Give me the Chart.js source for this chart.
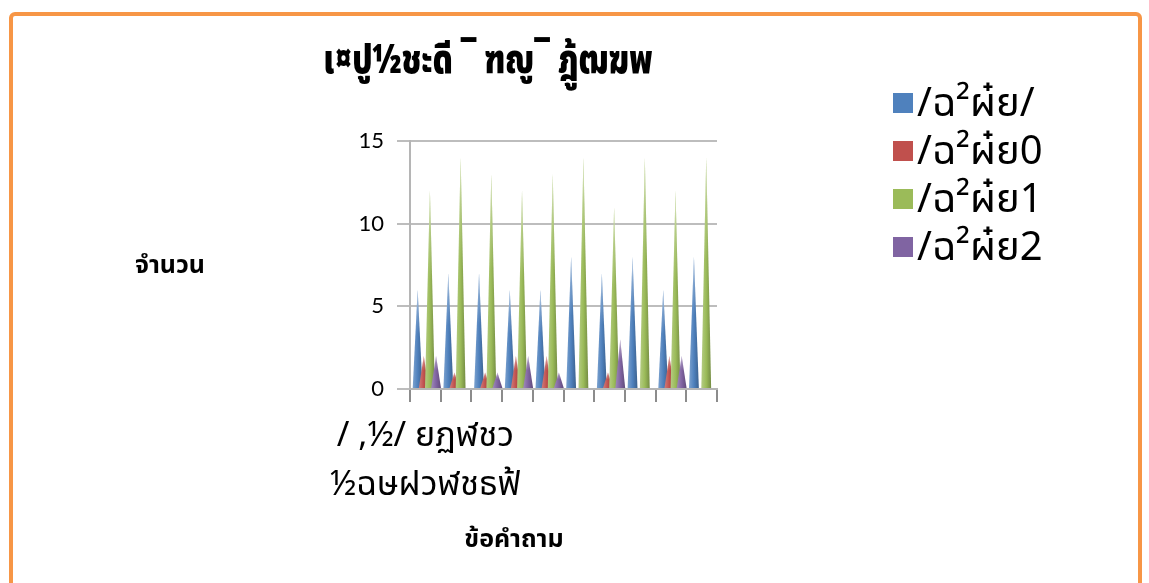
<!DOCTYPE html>
<html>
<head>
<meta charset="utf-8">
<script src="https://cdn.jsdelivr.net/npm/chart.js@4/dist/chart.umd.min.js"></script>
<style>
  html, body { margin: 0; padding: 0; background: #fff; overflow: hidden; }
  #wrap { position: relative; width: 1149px; height: 583px; }
  #frame { position: absolute; left: 9px; top: 12px; width: 1133px; height: 640px;
           border: 4px solid #F79646; border-radius: 6px; box-sizing: border-box; }
  canvas { position: absolute; left: 0; top: 0; }
  .txt { position: absolute; white-space: nowrap; color: #000;
         font-family: "Noto Sans Thai", "Noto Sans", "DejaVu Sans", sans-serif; }
  #title { left: 488px; top: 60px; transform: translate(-50%, -50%) scaleX(0.78); font-size: 40px; font-weight: 900; }
  #ytitle { left: 170px; top: 265px; transform: translate(-50%, -50%); font-size: 25px; font-weight: bold; }
  #xtitle { left: 514px; top: 539px; transform: translate(-50%, -50%); font-size: 25px; font-weight: bold; }
  #legend { position: absolute; left: 893px; top: 78px; }
  .item { position: relative; height: 48px; }
  .sw { position: absolute; left: 0; top: 15px; width: 20px; height: 20px; }
  .lab { position: absolute; left: 24px; top: 25px; transform: translateY(-50%); font-size: 40px; }
</style>
</head>
<body>
<div id="wrap">
  <div id="frame"></div>
  <canvas id="c" width="1149" height="583"></canvas>
  <div class="txt" id="title"></div>
  <div class="txt" id="ytitle"></div>
  <div class="txt" id="xtitle"></div>
  <div id="legend"></div>
</div>
<script>
// Chart text
const chartTitle = 'เ¤ปู½ชะดี ¯ ฑญู¯ ฎู้ฒฆพ';
const yAxisTitle = 'จำนวน';
const xAxisTitle = 'ข้อคำถาม';

// Ten questions; only the first one carries a printed label
const questionLabels = [['/ ,½/ ยฏฬชว', '½ฉษฝวฬชธฟ้'], '', '', '', '', '', '', '', '', ''];

// Answer levels (series)
const seriesNames = ['/ฉ²ผ๋ย/', '/ฉ²ผ๋ย0', '/ฉ²ผ๋ย1', '/ฉ²ผ๋ย2'];
const seriesColors = ['#4F81BD', '#C0504D', '#9BBB59', '#8064A2'];

// Counts per question for each level
const level1 = [6, 7, 7, 6, 6, 8, 7, 8, 6, 8];
const level2 = [2, 1, 1, 2, 2, 0, 1, 0, 2, 0];
const level3 = [12, 14, 13, 12, 13, 14, 11, 14, 12, 14];
const level4 = [2, 0, 1, 2, 1, 0, 3, 0, 2, 0];

// Y axis ticks
const yTicks = [0, 5, 10, 15];

document.getElementById('title').textContent = chartTitle;
document.getElementById('ytitle').textContent = yAxisTitle;
document.getElementById('xtitle').textContent = xAxisTitle;

const legendEl = document.getElementById('legend');
seriesNames.forEach((name, i) => {
  const item = document.createElement('div');
  item.className = 'item';
  const sw = document.createElement('div');
  sw.className = 'sw';
  sw.style.background = seriesColors[i];
  const lab = document.createElement('div');
  lab.className = 'txt lab';
  lab.textContent = name;
  item.appendChild(sw);
  item.appendChild(lab);
  legendEl.appendChild(item);
});

function shade(hex, f) {
  const n = parseInt(hex.slice(1), 16);
  let r = (n >> 16) & 255, g = (n >> 8) & 255, b = n & 255;
  if (f >= 0) { r += (255 - r) * f; g += (255 - g) * f; b += (255 - b) * f; }
  else { r *= 1 + f; g *= 1 + f; b *= 1 + f; }
  return `rgb(${Math.round(r)},${Math.round(g)},${Math.round(b)})`;
}

// Draws each bar as a shaded cone standing on the category axis
const conePlugin = {
  id: 'cones',
  beforeDatasetDraw() { return false; },
  afterDatasetsDraw(chart) {
    const ctx = chart.ctx;
    chart.data.datasets.forEach((ds, i) => {
      const meta = chart.getDatasetMeta(i);
      const col = seriesColors[i];
      meta.data.forEach(bar => {
        const p = bar.getProps(['x', 'y', 'base', 'width'], true);
        if (p.base - p.y < 0.5) return;
        const half = p.width * 0.8;
        const cx = p.x + 1.5;
        ctx.save();
        ctx.beginPath();
        ctx.moveTo(cx - half, p.base);
        ctx.lineTo(cx, p.y);
        ctx.lineTo(cx + half, p.base);
        ctx.closePath();
        const hg = ctx.createLinearGradient(cx - half, 0, cx + half, 0);
        hg.addColorStop(0, shade(col, 0.25));
        hg.addColorStop(0.5, col);
        hg.addColorStop(1, shade(col, -0.25));
        ctx.fillStyle = hg;
        ctx.fill();
        const vg = ctx.createLinearGradient(0, p.y, 0, p.base);
        vg.addColorStop(0, 'rgba(255,255,255,0.7)');
        vg.addColorStop(0.2, 'rgba(255,255,255,0.25)');
        vg.addColorStop(0.45, 'rgba(255,255,255,0)');
        ctx.fillStyle = vg;
        ctx.fill();
        ctx.restore();
      });
    });
  }
};

const tickFont = { family: 'Lato, "Open Sans", sans-serif', size: 22 };

new Chart(document.getElementById('c'), {
  type: 'bar',
  data: {
    labels: questionLabels,
    datasets: [level1, level2, level3, level4].map((vals, i) => ({
      label: seriesNames[i],
      data: vals,
      backgroundColor: seriesColors[i]
    }))
  },
  options: {
    responsive: false,
    animation: false,
    events: [],
    layout: { padding: { left: 300, right: 432, top: 141, bottom: 0 } },
    datasets: { bar: { categoryPercentage: 0.8, barPercentage: 1.0 } },
    plugins: { legend: { display: false }, title: { display: false }, tooltip: { enabled: false } },
    scales: {
      x: {
        grid: { offset: true, drawOnChartArea: false, drawTicks: true, tickLength: 13, color: '#8c8c8c', lineWidth: 2 },
        border: { display: true, color: '#b5b5b5', width: 2 },
        ticks: {
          autoSkip: false, maxRotation: 0, minRotation: 0, padding: 12,
          color: '#000',
          font: { family: '"Noto Sans Thai", "Noto Sans", "DejaVu Sans", sans-serif', size: 34, lineHeight: 1.45 }
        },
        afterFit(s) { s.height = 583 - 389; }
      },
      y: {
        min: 0, max: 15,
        afterBuildTicks(s) { s.ticks = yTicks.map(v => ({ value: v })); },
        grid: { color: '#bdbdbd', lineWidth: 2, drawTicks: true, tickLength: 13 },
        border: { display: true, color: '#b5b5b5', width: 2 },
        ticks: { padding: 13, color: '#000', font: tickFont },
        afterFit(s) { s.width = 110; }
      }
    }
  },
  plugins: [conePlugin]
});
</script>
</body>
</html>
